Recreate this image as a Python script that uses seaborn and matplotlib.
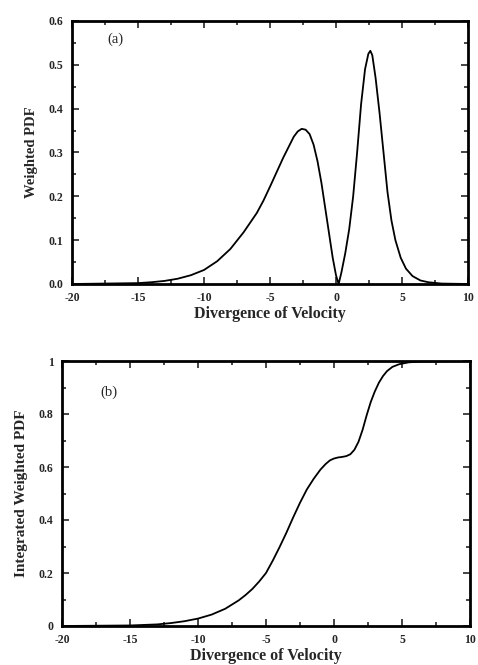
import numpy as np
import pandas as pd
import matplotlib
matplotlib.use("Agg")
import matplotlib.pyplot as plt
from matplotlib.ticker import MultipleLocator, FixedLocator, FixedFormatter
import seaborn as sns

# ---- data ----
pdf_x = [-20, -15, -14, -13, -12, -11, -10, -9, -8, -7, -6, -5.5, -5, -4.5, -4, -3.5,
         -3.2, -2.9, -2.6, -2.3, -2.0, -1.7, -1.4, -1.1, -0.8, -0.5, -0.25, 0.0, 0.2,
         0.4, 0.7, 1.0, 1.3, 1.6, 1.9, 2.2, 2.45, 2.6, 2.75, 3.0, 3.3, 3.6, 3.9, 4.2,
         4.5, 4.9, 5.3, 5.8, 6.4, 7.0, 8.0, 10.0]
pdf_y = [0.0, 0.002, 0.004, 0.007, 0.012, 0.02, 0.032, 0.052, 0.08, 0.118, 0.162,
         0.19, 0.222, 0.255, 0.288, 0.318, 0.336, 0.348, 0.354, 0.352, 0.342, 0.318,
         0.28, 0.23, 0.17, 0.11, 0.06, 0.02, 0.0, 0.025, 0.07, 0.125, 0.2, 0.3, 0.41,
         0.49, 0.525, 0.532, 0.522, 0.47, 0.39, 0.3, 0.21, 0.145, 0.1, 0.06, 0.035,
         0.018, 0.008, 0.004, 0.001, 0.0]

cdf_x = [-20, -15, -13, -12, -11, -10, -9, -8, -7, -6.5, -6, -5.5, -5, -4.5, -4, -3.5,
         -3, -2.5, -2, -1.5, -1, -0.6, -0.3, 0, 0.3, 0.6, 0.9, 1.2, 1.5, 1.8, 2.1, 2.4,
         2.7, 3.0, 3.3, 3.6, 3.9, 4.3, 4.8, 5.5, 6.5, 10.0]
cdf_y = [0.0, 0.002, 0.006, 0.011, 0.018, 0.028, 0.043, 0.065, 0.097, 0.117, 0.14,
         0.168, 0.2, 0.247, 0.298, 0.352, 0.41, 0.465, 0.515, 0.555, 0.59, 0.612,
         0.625, 0.632, 0.636, 0.638, 0.641, 0.648, 0.665, 0.695, 0.74, 0.795, 0.845,
         0.885, 0.918, 0.943, 0.962, 0.978, 0.988, 0.995, 0.998, 1.0]

x_ticks = [-20, -15, -10, -5, 0, 5, 10]
x_ticklabels = ["-20", "-15", "-10", "-5", "0", "5", "10"]
top_yticks = [0.0, 0.1, 0.2, 0.3, 0.4, 0.5, 0.6]
top_yticklabels = ["0.0", "0.1", "0.2", "0.3", "0.4", "0.5", "0.6"]
bot_yticks = [0, 0.2, 0.4, 0.6, 0.8, 1.0]
bot_yticklabels = ["0", "0.2", "0.4", "0.6", "0.8", "1"]

xlabel = "Divergence of Velocity"
top_ylabel = "Weighted PDF"
bot_ylabel = "Integrated Weighted PDF"

sns.set_style("ticks")
plt.rcParams["font.family"] = ["Liberation Serif", "DejaVu Serif"]
plt.rcParams["axes.unicode_minus"] = False

fig = plt.figure(figsize=(4.78, 6.65), dpi=100)
W, H = 478, 665
ax1 = fig.add_axes([72 / W, 1 - 284 / H, 396 / W, 263 / H])
ax2 = fig.add_axes([62 / W, 1 - 626 / H, 408 / W, 265 / H])

df1 = pd.DataFrame({"x": pdf_x, "y": pdf_y})
df2 = pd.DataFrame({"x": cdf_x, "y": cdf_y})
sns.lineplot(data=df1, x="x", y="y", ax=ax1, color="black", linewidth=1.3)
sns.lineplot(data=df2, x="x", y="y", ax=ax2, color="black", linewidth=1.3)

def style(ax, yticks, yticklabels, ymax, yminor, ylabel, ylsize):
    ax.set_xlim(-20, 10)
    ax.set_ylim(0, ymax)
    ax.xaxis.set_major_locator(FixedLocator(x_ticks))
    ax.xaxis.set_major_formatter(FixedFormatter(x_ticklabels))
    ax.yaxis.set_major_locator(FixedLocator(yticks))
    ax.yaxis.set_major_formatter(FixedFormatter(yticklabels))
    ax.xaxis.set_minor_locator(MultipleLocator(2.5))
    ax.yaxis.set_minor_locator(MultipleLocator(yminor))
    ax.tick_params(which="both", direction="in", top=True, right=True, width=1.2)
    ax.tick_params(which="major", length=5, labelsize=8.5, pad=6)
    ax.tick_params(which="minor", length=3)
    for lab in ax.get_xticklabels() + ax.get_yticklabels():
        lab.set_fontweight("bold")
    for s in ax.spines.values():
        s.set_linewidth(2.0)
        s.set_color("black")
    ax.set_xlabel(xlabel, fontsize=11.5, fontweight="bold", labelpad=1)
    ax.set_ylabel(ylabel, fontsize=ylsize, fontweight="bold", labelpad=8)

style(ax1, top_yticks, top_yticklabels, 0.6, 0.05, top_ylabel, 10.5)
style(ax2, bot_yticks, bot_yticklabels, 1.0, 0.1, bot_ylabel, 11)

ax1.text(-17.3, 0.55, "(a)", fontsize=10.5)
ax2.text(-17.2, 0.87, "(b)", fontsize=10.5)

fig.savefig("out.png", dpi=100)
